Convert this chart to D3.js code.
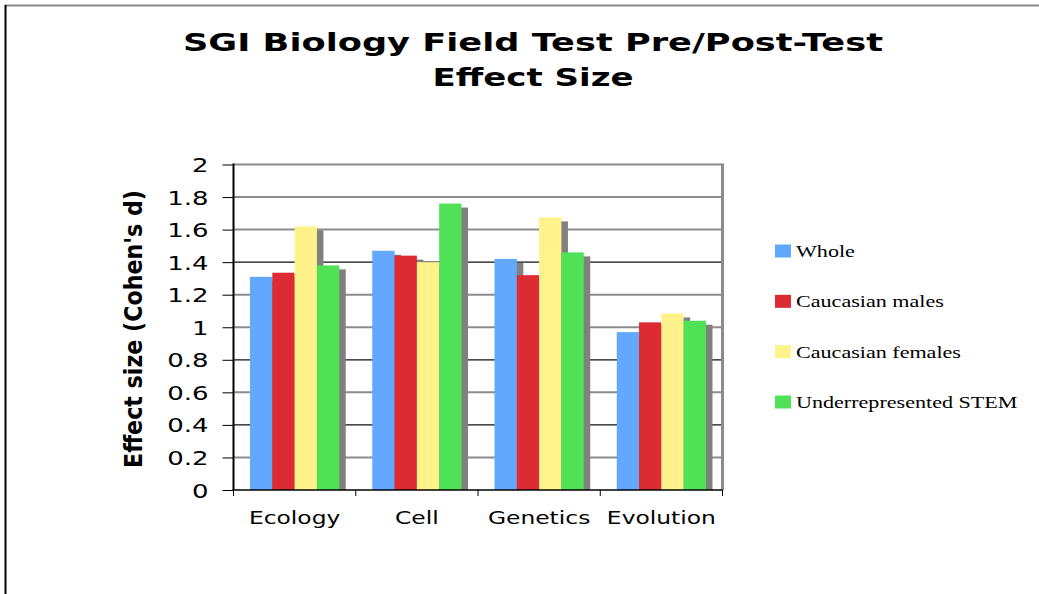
<!DOCTYPE html>
<html>
<head>
<meta charset="utf-8">
<script src="https://cdn.jsdelivr.net/npm/d3@7/dist/d3.min.js"></script>
<style>
  body { margin: 0; background: #fff; }
  svg { display: block; }
</style>
</head>
<body>
<script>
var width = 1039, height = 594;
var SX = 1.3; // the original picture is stretched sideways, text too

var categories = ["Ecology", "Cell", "Genetics", "Evolution"];
var seriesNames = ["Whole", "Caucasian males", "Caucasian females", "Underrepresented STEM"];
var whole       = [1.31, 1.47, 1.42, 0.97];
var cMales      = [1.335, 1.44, 1.32, 1.03];
var cFemales    = [1.62, 1.40, 1.675, 1.085];
var underStem   = [1.38, 1.76, 1.46, 1.04];
var seriesColors = ["#62a8fe", "#dc2b32", "#fff28b", "#4fe257"];
var yTicks = [0, 0.2, 0.4, 0.6, 0.8, 1, 1.2, 1.4, 1.6, 1.8, 2];
var yTickLabels = ["0", "0.2", "0.4", "0.6", "0.8", "1", "1.2", "1.4", "1.6", "1.8", "2"];
var darkGrid = [0.4, 0.8, 1.4];

var values = [whole, cMales, cFemales, underStem];

var svg = d3.select("body").append("svg")
    .attr("width", width)
    .attr("height", height);

// outer frame (only top and left show)
svg.append("line").attr("x1", 5).attr("y1", 5.5).attr("x2", width).attr("y2", 5.5)
    .attr("stroke", "#8a8a8a").attr("stroke-width", 2);
svg.append("line").attr("x1", 5.5).attr("y1", 5).attr("x2", 5.5).attr("y2", height)
    .attr("stroke", "#000").attr("stroke-width", 2);

function stretchText(g, x, y, txt) {
  return g.append("text")
      .attr("transform", "translate(" + x + "," + y + ") scale(" + SX + ",1)")
      .text(txt);
}

// title
var title = svg.append("g")
    .style("font-family", "'DejaVu Sans', sans-serif")
    .style("font-weight", "bold")
    .style("font-size", "25px")
    .attr("text-anchor", "middle");
title.append("text").attr("x", 533).attr("y", 51)
    .attr("textLength", 700).attr("lengthAdjust", "spacingAndGlyphs")
    .text("SGI Biology Field Test Pre/Post-Test");
title.append("text").attr("x", 533).attr("y", 86)
    .attr("textLength", 201).attr("lengthAdjust", "spacingAndGlyphs")
    .text("Effect Size");

var plotL = 233.5, plotR = 722.5, plotT = 164.5, plotB = 490;

var x0 = d3.scaleBand().domain(categories).range([plotL, plotR])
    .paddingInner(0.27).paddingOuter(0.135);
var x1 = d3.scaleBand().domain(d3.range(seriesNames.length)).range([0, x0.bandwidth()]);
var y = d3.scaleLinear().domain([0, 2]).range([plotB, plotT]);

// gridlines
svg.append("g").selectAll("line")
  .data(yTicks.filter(function(d) { return d > 0; }))
  .join("line")
    .attr("x1", plotL).attr("x2", plotR)
    .attr("y1", function(d) { return y(d); })
    .attr("y2", function(d) { return y(d); })
    .attr("stroke", function(d) { return darkGrid.indexOf(d) >= 0 ? "#111" : "#8c8c8c"; })
    .attr("stroke-width", function(d) { return darkGrid.indexOf(d) >= 0 ? 1.3 : 2; });

// right edge of plot
svg.append("line").attr("x1", plotR).attr("x2", plotR).attr("y1", plotT - 1).attr("y2", plotB)
    .attr("stroke", "#8c8c8c").attr("stroke-width", 3);

var rows = categories.map(function(c, i) {
  return values.map(function(v, s) { return {cat: c, s: s, v: v[i]}; });
});

var groups = svg.append("g").selectAll("g")
  .data(rows)
  .join("g")
    .attr("transform", function(d) { return "translate(" + x0(d[0].cat) + ",0)"; });

// shadows first, then bars on top
groups.selectAll("rect.shadow")
  .data(function(d) { return d; })
  .join("rect")
    .attr("class", "shadow")
    .attr("x", function(d) { return x1(d.s) + 6.5; })
    .attr("y", function(d) { return y(d.v) + 4; })
    .attr("width", x1.bandwidth())
    .attr("height", function(d) { return plotB - y(d.v) - 4; })
    .attr("fill", "#808080");

groups.selectAll("rect.bar")
  .data(function(d) { return d; })
  .join("rect")
    .attr("class", "bar")
    .attr("x", function(d) { return x1(d.s); })
    .attr("y", function(d) { return y(d.v); })
    .attr("width", x1.bandwidth())
    .attr("height", function(d) { return plotB - y(d.v); })
    .attr("fill", function(d) { return seriesColors[d.s]; });

// y axis
var yAxis = svg.append("g")
    .attr("transform", "translate(" + plotL + ",0)")
    .call(d3.axisLeft(y).tickValues(yTicks).tickSize(11)
      .tickFormat(function(d, i) { return yTickLabels[i]; }));
yAxis.select(".domain").attr("stroke", "#000").attr("stroke-width", 2)
    .attr("d", "M0," + (plotT - 1) + "V" + plotB);
yAxis.selectAll(".tick line").attr("stroke", "#000");
yAxis.selectAll(".tick text")
    .attr("x", null).attr("dy", null)
    .attr("transform", "translate(-25,7) scale(" + SX + ",1)")
    .style("font-family", "'DejaVu Sans', sans-serif")
    .style("font-size", "20px")
    .attr("fill", "#000");

// x axis with ticks between categories
var bounds = categories.map(function(c) { return x0(c) - (x0.step() - x0.bandwidth()) / 2; });
bounds.push(plotR);
var xAxis = svg.append("g");
xAxis.append("line").attr("x1", plotL - 1).attr("x2", plotR).attr("y1", plotB).attr("y2", plotB)
    .attr("stroke", "#000").attr("stroke-width", 1.5);
xAxis.selectAll("line.tk").data(bounds).join("line")
    .attr("class", "tk")
    .attr("x1", function(d) { return d; }).attr("x2", function(d) { return d; })
    .attr("y1", plotB).attr("y2", plotB + 6)
    .attr("stroke", "#000");
var xLabels = xAxis.append("g")
    .style("font-family", "'DejaVu Sans', sans-serif")
    .style("font-size", "18px")
    .attr("text-anchor", "middle");
categories.forEach(function(c) {
  stretchText(xLabels, x0(c) + x0.bandwidth() / 2, 524, c);
});

// y axis title
svg.append("text")
    .attr("transform", "translate(142,329) scale(" + SX + ",1) rotate(-90)")
    .attr("text-anchor", "middle")
    .attr("textLength", 278).attr("lengthAdjust", "spacingAndGlyphs")
    .style("font-family", "'DejaVu Sans', sans-serif")
    .style("font-weight", "bold")
    .style("font-size", "19px")
    .text("Effect size (Cohen's d)");

// legend
var legend = svg.append("g")
    .style("font-family", "'Liberation Serif', 'Times New Roman', serif")
    .style("font-size", "17px");
var legendY = d3.scalePoint().domain(seriesNames).range([251, 402]);
seriesNames.forEach(function(name, i) {
  legend.append("rect")
      .attr("x", 775).attr("y", legendY(name) - 6.5)
      .attr("width", 16).attr("height", 13)
      .attr("fill", seriesColors[i]);
  stretchText(legend, 796, legendY(name) + 6, name);
});
</script>
</body>
</html>
